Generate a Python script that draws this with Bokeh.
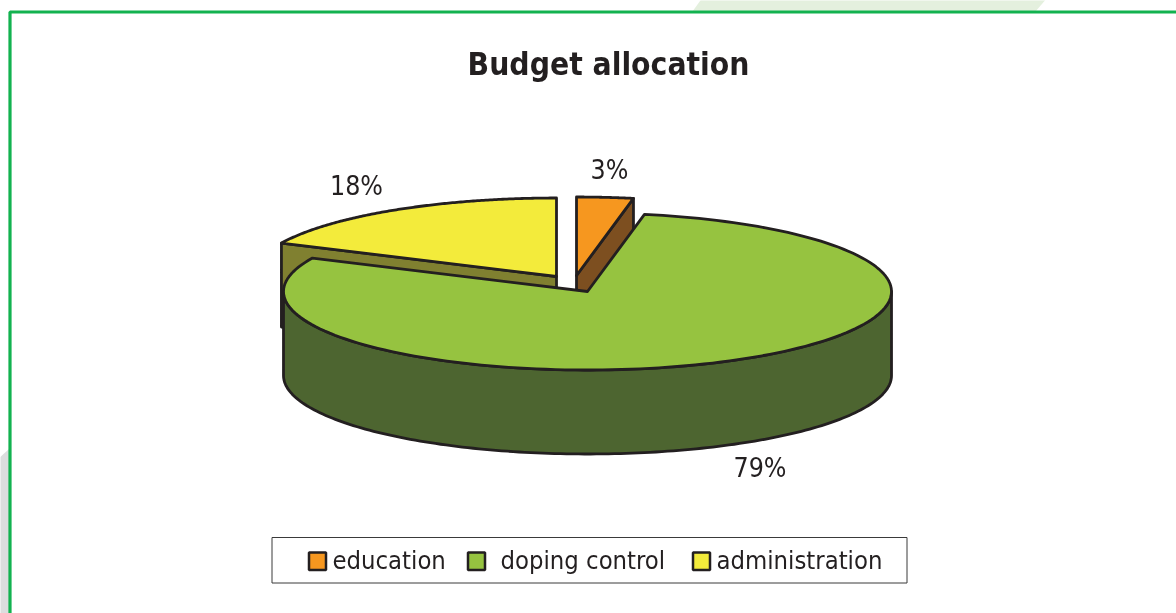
import numpy as np
from bokeh.plotting import figure
from bokeh.models import Range1d
from bokeh.core.properties import value
from bokeh.embed import file_html
from bokeh.resources import INLINE

categories = ["education", "doping control", "administration"]
shares = [3, 79, 18]
share_labels = ["3%", "79%", "18%"]
top_colors = ["#F6971F", "#96C340", "#F3EB3B"]
side_colors = ["#7D4F20", "#4D6530", "#808030"]
title_text = "Budget allocation"

INK = "#231F20"
FONT = "DejaVu Sans Condensed"
A, B, DEPTH = 304, 78.5, 84
APEX = {"education": (576, 275), "doping control": (587, 291), "administration": (556, 276)}

p = figure(width=1176, height=613, output_backend="svg", toolbar_location=None,
           x_range=Range1d(0, 1176), y_range=Range1d(613, 0), min_border=0,
           x_axis_type=None, y_axis_type=None, outline_line_color=None,
           background_fill_color="white", border_fill_color="white")
p.grid.visible = False
p.styles = {"position": "fixed", "left": "0px", "top": "0px"}

# page decoration behind the frame
p.patch([702, 692, 1035, 1047], [-3, 11, 11, -3], fill_color="#E4F0DE", line_color=None)
p.patch([-3, 9, 9, -3], [459, 448, 616, 616], fill_color="#DCDDDE", line_color=None)
p.line([9.5, 9.5, 1176], [613, 11.5, 11.5], line_color="#12B24F", line_width=3.2)

def rim(cx, cy, t0, t1, n=160):
    t = np.radians(np.linspace(t0, t1, n))
    return cx + A * np.sin(t), cy - B * np.cos(t)

edges = np.concatenate([[0], np.cumsum(shares)]) * 3.6
spans = {c: (edges[i], edges[i + 1]) for i, c in enumerate(categories)}

def style(i):
    return dict(line_color=INK, line_width=2.8, line_join="round")

def wall(i, cat, angle):
    cx, cy = APEX[cat]
    x, y = rim(cx, cy, angle, angle, 1)
    p.patch([cx, x[0], x[0], cx], [cy, y[0], y[0] + DEPTH, cy + DEPTH],
            fill_color=side_colors[i], **style(i))

def face(i, cat):
    cx, cy = APEX[cat]
    t0, t1 = spans[cat]
    x, y = rim(cx, cy, t0, t1)
    p.patch(np.r_[cx, x], np.r_[cy, y], fill_color=top_colors[i], **style(i))

# painter's order: exploded back slices first, large slice last
wall(2, "administration", spans["administration"][0])
face(2, "administration")
wall(0, "education", spans["education"][1])
face(0, "education")

cx, cy = APEX["doping control"]
x, y = rim(cx, cy, 90, 270)
p.patch(np.r_[x, x[::-1]], np.r_[y, y[::-1] + DEPTH], fill_color=side_colors[1], **style(1))
face(1, "doping control")

# labels
p.text([608], [63], text=[title_text], text_font=value(FONT), text_font_style="bold",
       text_font_size="31.5px", text_color=INK, text_align="center", text_baseline="middle")
p.text([609, 759.5, 356], [169, 467, 185], text=share_labels, text_font=value(FONT),
       text_font_size="26.5px", text_color=INK, text_align="center", text_baseline="middle")

# legend
p.quad(left=[271.5], right=[906.5], top=[537], bottom=[582.5], fill_color="white",
       line_color="#3A3A3A", line_width=1)
p.quad(left=[308.5, 467.5, 692.5], right=[325.5, 484.5, 709.5], top=[552, 552, 552],
       bottom=[569.5, 569.5, 569.5], fill_color=top_colors, line_color=INK, line_width=2.5)
p.text([332, 500, 716], [559, 559, 559], text=categories, text_font=value(FONT),
       text_font_size="25.4px", text_color=INK, text_align="left", text_baseline="middle")

open("out.html", "w").write(file_html(p, INLINE))
